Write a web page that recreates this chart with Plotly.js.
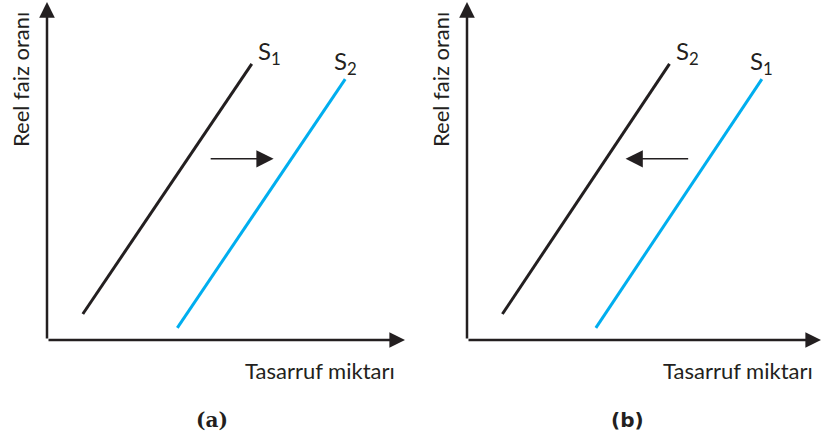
<!DOCTYPE html>
<html>
<head>
<meta charset="utf-8">
<script src="https://cdn.plot.ly/plotly-3.0.1.min.js"></script>
<style>html,body{margin:0;padding:0;background:#fff;}#chart{width:821px;height:441px;}</style>
</head>
<body>
<div id="chart"></div>
<script>
// Data (arbitrary units: quantity of savings vs. real interest rate)
const innerCurveQ = [1.0, 5.72];   // left-hand supply curve (black)
const innerCurveR = [0.77, 8.17];
const outerCurveQ = [3.64, 8.33];  // right-hand supply curve (blue)
const outerCurveR = [0.36, 7.72];
const shiftQ = [4.53, 6.33];       // horizontal shift arrow endpoints
const shiftR = 5.36;
const panelLabels = ['(a)', '(b)'];
const curveNamesA = ['S<sub>1</sub>', 'S<sub>2</sub>'];
const curveNamesB = ['S<sub>2</sub>', 'S<sub>1</sub>'];
const xTitle = 'Tasarruf miktarı';
const yTitle = 'Reel faiz oranı';

const INK = '#231f20';
const BLUE = '#00aeef';
const FONT = 'Lato, "Open Sans", sans-serif';

function curve(xa, ya, q, r, color) {
  return {x: q, y: r, xaxis: xa, yaxis: ya, mode: 'lines', type: 'scatter',
    line: {color: color, width: 3}, showlegend: false, hoverinfo: 'skip'};
}

const data = [
  curve('x', 'y', innerCurveQ, innerCurveR, INK),
  curve('x', 'y', outerCurveQ, outerCurveR, BLUE),
  curve('x2', 'y2', innerCurveQ, innerCurveR, INK),
  curve('x2', 'y2', outerCurveQ, outerCurveR, BLUE)
];

function arrow(xr, yr, x0, y0, x1, y1, w, size, head) {
  return {xref: xr, yref: yr, axref: xr, ayref: yr, x: x1, y: y1, ax: x0, ay: y0,
    text: '', showarrow: true, arrowhead: head, arrowsize: size, arrowwidth: w,
    arrowcolor: INK, standoff: 0, startstandoff: 0};
}
function label(xr, yr, x, y, txt, opts) {
  return Object.assign({xref: xr, yref: yr, x: x, y: y, text: txt, showarrow: false,
    font: {family: FONT, size: 22, color: INK}}, opts || {});
}

const annotations = [];
const panels = [
  ['x', 'y', curveNamesA, [shiftQ[0], shiftQ[1]], 320, 20],
  ['x2', 'y2', curveNamesB, [shiftQ[1] - 0.04, shiftQ[0] - 0.05], 738, 440]
];
panels.forEach(([xr, yr, names, sh, xTitlePx, yTitlePx]) => {
  annotations.push(arrow(xr, yr, 0, 0, 10, 0, 2.5, 1.25, 2));
  annotations.push(arrow(xr, yr, 0, 0, 0, 10, 2.5, 1.25, 2));
  annotations.push(arrow(xr, yr, sh[0], shiftR, sh[1], shiftR, 1.5, 2.3, 2));
  annotations.push(label(xr, yr, innerCurveQ[1] + 0.12, innerCurveR[1] + 0.35, names[0], {xanchor: 'left', yanchor: 'middle', font: {family: FONT, size: 24, color: INK}}));
  annotations.push(label(xr, yr, outerCurveQ[1] - 0.38, outerCurveR[1] + 0.5, names[1], {xanchor: 'left', yanchor: 'middle', font: {family: FONT, size: 24, color: INK}}));
  annotations.push(label('paper', 'paper', xTitlePx / 821, (441 - 370) / 441, xTitle, {xanchor: 'center', yanchor: 'middle'}));
  annotations.push(label('paper', 'paper', yTitlePx / 821, (441 - 80) / 441, yTitle, {xanchor: 'center', yanchor: 'middle', textangle: -90}));
});
annotations.push(label('paper', 'paper', 212 / 821, 21 / 441, panelLabels[0], {xanchor: 'center', yanchor: 'middle', font: {family: '"DejaVu Serif", serif', size: 20, color: INK, weight: 'bold'}}));
annotations.push(label('paper', 'paper', 627 / 821, 21 / 441, panelLabels[1], {xanchor: 'center', yanchor: 'middle', font: {family: '"DejaVu Sans", sans-serif', size: 20, color: INK, weight: 'bold'}}));

const hidden = {visible: false, range: [0, 10], fixedrange: true};
const layout = {
  width: 821, height: 441, autosize: false,
  margin: {l: 0, r: 0, t: 0, b: 0},
  paper_bgcolor: '#fff', plot_bgcolor: 'rgba(0,0,0,0)',
  xaxis: Object.assign({domain: [47 / 821, 405 / 821], anchor: 'y'}, hidden),
  yaxis: Object.assign({domain: [101 / 441, 439 / 441], anchor: 'x'}, hidden),
  xaxis2: Object.assign({domain: [467 / 821, 821 / 821], anchor: 'y2'}, hidden),
  yaxis2: Object.assign({domain: [101 / 441, 439 / 441], anchor: 'x2'}, hidden),
  annotations: annotations
};

Plotly.newPlot('chart', data, layout, {displayModeBar: false, staticPlot: true});
</script>
</body>
</html>
